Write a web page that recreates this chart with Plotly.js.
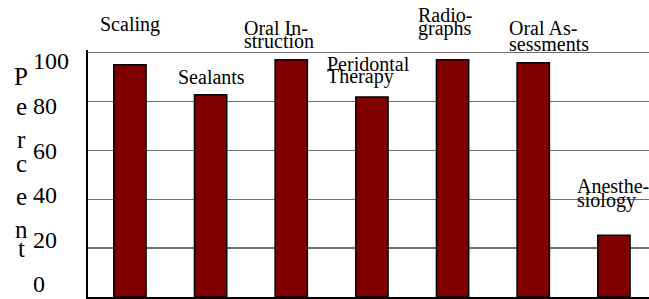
<!DOCTYPE html>
<html>
<head>
<meta charset="utf-8">
<script src="https://cdn.plot.ly/plotly-3.0.1.min.js"></script>
<style>html,body{margin:0;padding:0;background:#fff;}#chart{width:649px;height:299px;}</style>
</head>
<body>
<div id="chart"></div>
<script>
// ---- data ----
const categories = ["Scaling", "Sealants", "Oral Instruction", "Peridontal Therapy", "Radiographs", "Oral Assessments", "Anesthesiology"];
const percentValues = [95.0, 82.7, 97.0, 81.8, 97.0, 95.8, 25.2];
const labelLines = [["Scaling"], ["Sealants"], ["Oral In-", "struction"], ["Peridontal", "Therapy"], ["Radio-", "graphs"], ["Oral As-", "sessments"], ["Anesthe-", "siology"]];
const yTickVals = [0, 20, 40, 60, 80, 100];
const yTickText = ["0", "20", "40", "60", "80", "100"];
const yTitle = "Percent";

// ---- layout config (pixel offsets of the category labels relative to bar top) ----
const labelDx = [-30, -33, -47.5, -45, -35, -24.5, -37];
const labelDy = [-33, -11, -25, -26, -38, -28, -43];
const labelStep = [0, 0, 13, 12.5, 13.5, 16.5, 15];
const labelFont = 20;
const serif = "Liberation Serif";

const W = 649, H = 299;
const mL = 30, mR = 0, mT = 50, mB = 2;
const plotW = W - mL - mR, plotH = H - mT - mB;
const axisX = 88;

const annotations = [];
labelLines.forEach((lines, i) => {
  lines.forEach((t, j) => {
    const dy = labelDy[i] + j * labelStep[i];
    annotations.push({
      x: categories[i], y: percentValues[i], xref: 'x', yref: 'y',
      text: t, showarrow: false, xanchor: 'left', yanchor: 'middle',
      xshift: labelDx[i] - 2, yshift: 0.34 * labelFont - dy,
      font: {family: serif, size: labelFont, color: '#000'}
    });
  });
});
// vertical stacked axis title letters
const letterBase = [85, 115, 148, 172, 205, 238, 257];
const letterFont = 25;
yTitle.split('').forEach((ch, k) => {
  const py = letterBase[k] - 0.34 * letterFont;
  annotations.push({
    xref: 'paper', yref: 'paper', x: (21 - mL) / plotW, y: (H - mB - py) / plotH,
    text: ch, showarrow: false, xanchor: 'center', yanchor: 'middle',
    font: {family: serif, size: letterFont, color: '#000'}
  });
});

const trace = {
  type: 'bar', x: categories, y: percentValues, width: 0.4,
  marker: {color: '#800000', line: {color: '#000', width: 1.5}},
  hoverinfo: 'skip'
};
const dummy = {type: 'scatter', mode: 'lines', x: [categories[0]], y: [yTickVals[0]], yaxis: 'y2', opacity: 0, hoverinfo: 'skip', showlegend: false};

const layout = {
  width: W, height: H,
  margin: {l: mL, r: mR, t: mT, b: mB, pad: 0},
  paper_bgcolor: '#fff', plot_bgcolor: '#fff',
  showlegend: false,
  font: {family: serif, color: '#000'},
  xaxis: {
    domain: [(axisX - mL) / plotW, 1],
    range: [-0.52, 6.435], showticklabels: false, ticks: '',
    showline: true, linecolor: '#000', linewidth: 1.5, showgrid: false, zeroline: false
  },
  yaxis: {
    range: [0, 101], tickvals: yTickVals, showticklabels: false, ticks: '',
    showgrid: true, gridcolor: '#6e6e6e', gridwidth: 1.2,
    showline: true, linecolor: '#000', linewidth: 2, zeroline: false
  },
  yaxis2: {
    overlaying: 'y', anchor: 'free', position: 0, side: 'right',
    range: [-5.83, 104.93], tickvals: yTickVals, ticktext: yTickText,
    showgrid: false, showline: false, zeroline: false, ticks: '',
    ticklabelstandoff: 2,
    tickfont: {family: serif, size: 24, color: '#000'}
  },
  annotations: annotations
};

Plotly.newPlot('chart', [trace, dummy], layout, {displayModeBar: false, staticPlot: true});
</script>
</body>
</html>
